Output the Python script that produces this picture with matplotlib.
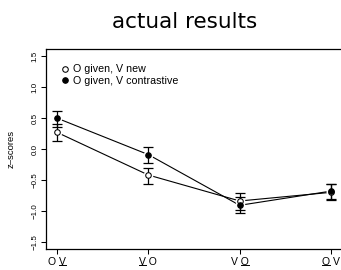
import matplotlib
matplotlib.use('Agg')
import matplotlib.pyplot as plt
from matplotlib.lines import Line2D
import numpy as np

plt.rcParams['font.family'] = ['Liberation Sans', 'DejaVu Sans']
plt.rcParams['axes.unicode_minus'] = True

conditions = ['O V', 'V O', 'V O', 'O V']
underlined = [2, 0, 2, 0]  # index of the underlined letter in each label
new_mean = [0.27, -0.42, -0.84, -0.70]
new_lo = [0.13, -0.56, -0.98, -0.82]
new_hi = [0.41, -0.30, -0.71, -0.57]
con_mean = [0.50, -0.09, -0.91, -0.68]
con_lo = [0.35, -0.22, -1.03, -0.81]
con_hi = [0.62, 0.04, -0.78, -0.56]
labels = ['O given, V new', 'O given, V contrastive']

x = np.arange(1, len(conditions) + 1)

fig = plt.figure(figsize=(3.41, 2.70), dpi=100)
ax = fig.add_axes([0.135, 0.077, 0.868, 0.742])

for mean, lo, hi, face, lab in [(new_mean, new_lo, new_hi, 'white', labels[0]),
                                (con_mean, con_lo, con_hi, 'black', labels[1])]:
    mean = np.array(mean)
    err = [mean - np.array(lo), np.array(hi) - mean]
    ax.plot(x, mean, '-', color='black', lw=0.8, zorder=1)
    # white halo so lines stop short of the points (R type="b")
    ax.plot(x, mean, 'o', color='white', ms=7, mec='none', zorder=2)
    ax.errorbar(x, mean, yerr=err, fmt='none', ecolor='black', elinewidth=0.9,
                capsize=3.3, capthick=0.9, zorder=3)
    ax.plot(x, mean, 'o', mfc=face, mec='black', mew=0.75, ms=4.0, ls='none',
            zorder=4, label=lab)

ax.set_xlim(0.88, 4.12)
ax.set_ylim(-1.62, 1.62)
ax.set_xticks(x)
ax.set_xticklabels(conditions, fontsize=7.5)
yt = [-1.5, -1.0, -0.5, 0.0, 0.5, 1.0, 1.5]
ax.set_yticks(yt)
ax.set_yticklabels(['\u22121.5', '\u22121.0', '\u22120.5', '0.0', '0.5', '1.0', '1.5'],
                   fontsize=5.8, rotation=90, va='center')
ax.tick_params(length=3.5, width=0.75, pad=2)
for s in ax.spines.values():
    s.set_linewidth(0.9)
ax.set_ylabel('z\u2013scores', fontsize=6.8, labelpad=11)

ax.legend(loc='upper left', frameon=False, fontsize=7.7, handlelength=0.6,
          handletextpad=0.45, borderaxespad=0.4, labelspacing=0.1,
          bbox_to_anchor=(0.025, 0.965))

fig.text(0.542, 0.92, 'actual results', ha='center', va='center',
         fontsize=15.5, family='DejaVu Sans')

# underline one letter of each x tick label
fig.canvas.draw()
r = fig.canvas.get_renderer()
W, H = fig.bbox.width, fig.bbox.height
for tl, idx in zip(ax.get_xticklabels(), underlined):
    bb = tl.get_window_extent(r)
    s = tl.get_text()
    tmp = fig.text(0, 0, s[:idx], fontsize=7.5)
    x0 = bb.x0 + (tmp.get_window_extent(r).width if idx else 0)
    tmp.set_text(s[idx])
    x1 = x0 + tmp.get_window_extent(r).width
    tmp.remove()
    yl = bb.y0 + 1.5
    fig.add_artist(Line2D([x0 / W, x1 / W], [yl / H, yl / H],
                          transform=fig.transFigure, color='black', lw=0.7))

fig.savefig('out.png', dpi=100)
